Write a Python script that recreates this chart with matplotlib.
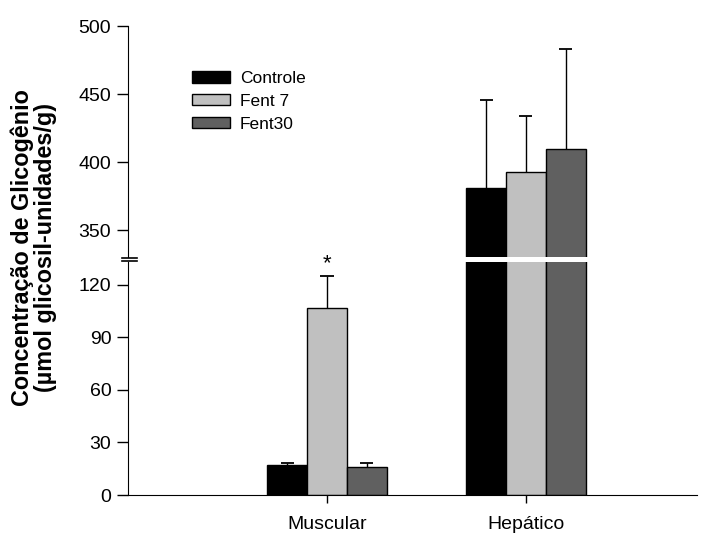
import numpy as np
import matplotlib
matplotlib.use('Agg')
import matplotlib.pyplot as plt
from matplotlib.patches import Patch

plt.rcParams['font.family'] = ['Liberation Sans', 'DejaVu Sans']

# Data
groups = ['Muscular', 'Hepático']
series = ['Controle', 'Fent 7', 'Fent30']
colors = ['#000000', '#c0c0c0', '#606060']
controle = [17, 381]
fent7 = [107, 393]
fent30 = [16, 410]
controle_err = [1.5, 65]
fent7_err = [18, 41]
fent30_err = [2, 73]

values = [controle, fent7, fent30]
errors = [controle_err, fent7_err, fent30_err]

fig = plt.figure(figsize=(7.15, 5.34), dpi=100)
ax_low = fig.add_axes([0.1790, 0.0730, 0.7958, 0.4363])
ax_up = fig.add_axes([0.1790, 0.5178, 0.7958, 0.4335])

x = np.array([1.0, 2.0])
w = 0.2
cap = 0.033
for ax in (ax_low, ax_up):
        ax.patch.set_visible(False)
        for i in range(3):
                xs = x + (i - 1) * w
                ax.bar(xs, values[i], w, color=colors[i], edgecolor='black', linewidth=1)
                # upper error bars only, no cap on the bar
                tops = np.array(values[i]) + np.array(errors[i])
                ax.vlines(xs, values[i], tops, color='black', lw=1)
                ax.hlines(tops, xs - cap, xs + cap, color='black', lw=1.3)
        ax.set_xlim(0, 2.86)
        ax.spines['top'].set_visible(False)
        ax.spines['right'].set_visible(False)
        ax.tick_params(axis='y', direction='out', length=8, width=1, labelsize=14, pad=4)
        ax.tick_params(axis='x', direction='out', length=6, width=1, labelsize=14, pad=9)

ax_low.set_ylim(0, 133)
ax_low.set_yticks([0, 30, 60, 90, 120])
ax_low.set_xticks(x)
ax_low.set_xticklabels(groups)

ax_up.set_ylim(330, 500)
ax_up.set_yticks([350, 400, 450, 500])
ax_up.spines['bottom'].set_visible(False)
ax_up.set_xticks([])

# break marks
bx = [-6 / 569, 9 / 569]
ax_up.plot(bx, [-0.004, -0.004], color='black', lw=1.2, transform=ax_up.transAxes, clip_on=False)
ax_low.plot(bx, [1.004, 1.004], color='black', lw=1.2, transform=ax_low.transAxes, clip_on=False)

# significance mark
ax_low.text(1.0, fent7[0] + fent7_err[0] + 1, '*', ha='center', va='bottom', fontsize=16,
            zorder=10)

handles = [Patch(facecolor=colors[i], edgecolor='black', linewidth=1) for i in range(3)]
fig.legend(handles, series, loc='upper left', bbox_to_anchor=(192 / 715, 1 - 71 / 534),
           frameon=False, fontsize=12.5, handlelength=2.2, handleheight=0.64,
           handletextpad=0.55, labelspacing=0.45, borderpad=0, borderaxespad=0)

fig.text(0.047, 0.537, 'Concentração de Glicogênio\n(µmol glicosil-unidades/g)',
         rotation=90, ha='center', va='center', fontsize=16.8, fontweight='bold',
         linespacing=1.0)

fig.savefig('out.png', dpi=100)
